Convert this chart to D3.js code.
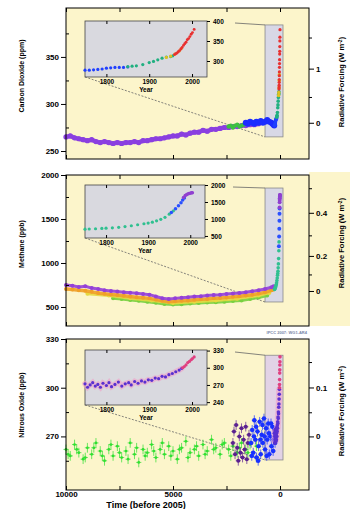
<!DOCTYPE html>
<html>
<head>
<meta charset="utf-8">
<script src="https://cdn.jsdelivr.net/npm/d3@7"></script>
<style>
  body { margin: 0; background: #fff; }
  text { font-family: "Liberation Sans", Arial, Helvetica, sans-serif; font-weight: bold; }
</style>
</head>
<body>
<svg id="chart" width="350" height="509"></svg>
<script>
// ---- data (years before 2005 for the long records, AD years for the modern ones) ----
const mainYearTicks = [10000, 7500, 5000, 2500, 0];
const mainYearLabels = [10000, 5000, 0];
const insetYearTicks = [1800, 1900, 2000];

const co2Purple = [[10000,265],[9800,266],[9600,264],[9400,263],[9200,262],[9000,261],[8800,262],[8600,260],[8400,259],[8200,260],[8000,259],[7800,258],[7600,259],[7400,258],[7200,259],[7000,259],[6800,260],[6600,259],[6400,261],[6200,261],[6000,262],[5800,263],[5600,263],[5400,264],[5200,265],[5000,266],[4800,266],[4600,268],[4400,267],[4200,269],[4000,270],[3800,270],[3600,272],[3400,271],[3200,273],[3000,273],[2800,274],[2600,275],[2400,275],[2200,276],[2000,276],[1800,277],[1600,277],[1400,278],[1200,278],[1000,279]];
const co2Green = [[2400,276],[2300,277],[2200,275],[2100,277],[2000,278],[1900,276],[1800,277],[1700,278]];
const co2Blue = [[1600,280],[1500,279],[1400,281],[1300,280],[1200,279],[1100,281],[1000,280],[900,282],[800,280],[700,281],[600,283],[500,281],[400,280],[350,279],[300,278],[270,277]];
const co2LawDome = [[1750,277],[1760,277],[1770,278],[1780,279],[1790,280],[1800,282],[1810,283],[1820,284],[1830,284],[1840,284],[1850,285]];
const co2Siple = [[1850,286],[1860,287],[1870,288],[1885,291],[1900,296],[1910,299],[1920,303],[1930,307],[1940,310],[1950,311],[1955,313]];
const co2Firn = [[1940,309],[1950,312],[1960,317],[1970,325],[1975,331]];
const co2MaunaLoa = [[1959,316],[1962,318],[1965,320],[1968,323],[1971,326],[1974,330],[1977,334],[1980,339],[1983,343],[1986,347],[1989,353],[1992,356],[1995,361],[1998,367],[2001,371],[2005,379]];

const ch4Purple = [[10000,750],[9700,742],[9400,728],[9100,735],[8800,715],[8500,705],[8200,690],[7900,682],[7600,675],[7300,668],[7000,662],[6700,655],[6400,648],[6100,640],[5800,620],[5500,600],[5200,590],[4900,598],[4600,605],[4300,610],[4000,618],[3700,622],[3400,630],[3100,636],[2800,640],[2500,648],[2200,652],[1900,660],[1600,668],[1300,678],[1000,690],[700,705],[400,725],[300,735]];
const ch4Orange = [[10000,705],[9700,698],[9400,690],[9100,685],[8800,672],[8500,660],[8200,650],[7900,642],[7600,635],[7300,628],[7000,620],[6700,612],[6400,605],[6100,598],[5800,585],[5500,570],[5200,560],[4900,565],[4600,570],[4300,575],[4000,582],[3700,588],[3400,592],[3100,598],[2800,602],[2500,608],[2200,615],[1900,622],[1600,630],[1300,640],[1000,652],[700,668],[400,690],[300,700]];
const ch4Yellow = [[9000,650],[8000,630],[7000,600],[6000,575],[5000,545],[4000,560],[3000,575],[2000,595],[1000,630],[500,660]];
const ch4Green = [[7800,600],[7400,590],[7000,580],[6600,570],[6200,560],[5800,548],[5400,535],[5000,528],[4600,530],[4200,540],[3800,545],[3400,550],[3000,555],[2600,560],[2200,568],[1800,575],[1400,590],[1000,608],[600,630]];
const ch4LawDome = [[1750,700],[1760,705],[1775,712],[1790,722],[1800,730],[1815,740],[1830,755],[1845,775],[1860,800],[1875,830],[1890,860],[1900,880],[1910,905],[1920,945],[1930,990],[1940,1050],[1950,1140],[1960,1240]];
const ch4Firn = [[1955,1190],[1965,1300],[1972,1390],[1978,1480],[1982,1560],[1986,1620]];
const ch4Atmos = [[1984,1630],[1988,1690],[1991,1715],[1994,1735],[1997,1750],[2000,1760],[2003,1772],[2005,1774]];

const n2oGreen = [[10000,262],[9800,258],[9600,265],[9400,260],[9200,256],[9000,263],[8800,259],[8600,266],[8400,261],[8200,255],[8000,262],[7800,258],[7600,264],[7400,257],[7200,261],[7000,266],[6800,259],[6600,254],[6400,262],[6200,260],[6000,265],[5800,257],[5600,262],[5400,259],[5200,264],[5000,261],[4800,256],[4600,263],[4400,267],[4200,260],[4000,262],[3800,258],[3600,265],[3400,261],[3200,268],[3000,263],[2800,259],[2600,266],[2400,262],[2200,264],[2000,260],[1800,266],[1600,262],[1400,265]];
const n2oGreenB = [[9900,259],[9500,262],[9100,257],[8700,263],[8300,258],[7900,265],[7500,260],[7100,256],[6700,263],[6300,258],[5900,261],[5500,266],[5100,258],[4700,262],[4300,257],[3900,264],[3500,259],[3100,262],[2700,265],[2300,258],[1900,263],[1500,260],[1100,264]];
const n2oPurple = [[2200,266],[2150,273],[2100,259],[2050,277],[2000,263],[1950,255],[1900,270],[1850,260],[1800,275],[1750,257],[1700,268],[1650,262],[1600,276],[1550,256],[1500,266],[1450,271]];
const n2oBlue = [[1350,266],[1300,274],[1250,260],[1200,280],[1150,268],[1100,257],[1050,273],[1000,264],[950,279],[900,259],[850,271],[800,266],[750,281],[700,262],[650,275],[600,268],[550,278],[500,259],[450,270],[400,264],[350,276],[300,268],[250,272]];
const n2oBlueB = [[1320,258],[1220,270],[1120,276],[1020,255],[920,268],[820,277],[720,270],[620,258],[520,272],[420,278],[320,261],[230,266]];
const n2oIce = [[1750,272],[1756,266],[1762,270],[1768,274],[1774,268],[1780,271],[1786,266],[1792,273],[1800,269],[1806,274],[1812,267],[1820,271],[1828,275],[1836,268],[1844,272],[1852,274],[1858,270],[1866,276],[1874,273],[1882,277],[1890,275],[1898,279],[1906,278],[1914,282],[1922,281],[1930,285],[1938,284],[1946,288],[1954,290],[1962,293],[1970,296],[1976,299]];
const n2oAtmos = [[1978,300],[1982,302],[1986,305],[1990,309],[1994,311],[1998,314],[2001,316],[2005,319]];

// ---- layout ----
const svg = d3.select('#chart');
const X0 = 66, X1 = 309;
const xMain = d3.scaleLinear().domain([10000, -1355]).range([X0, X1]);
const bg = '#fcf5cb';
const fmt = d3.format('d');

const panels = [
  {
    top: 8, bottom: 159, domain: [241.5, 402],
    ticks: [250, 300, 350], minor: [275, 325, 375],
    title: 'Carbon Dioxide (ppm)', titleY: 76, rfTitleY: 82,
    rfTicks: [0, 1], rfMinor: [0.5, 1.5], rfInv: r => 280 * Math.exp(r / 5.35),
    box: {bp: [700, -140], val: [265, 384]},
    inset: {x0: 85, x1: 207, y0: 21, y1: 77, domain: [260, 400], ticks: [300, 350, 400]},
    past: [
      {data: co2Purple, color: '#8a3fe0', r: 2.6, lw: 4.5},
      {data: co2Green, color: '#3cc040', r: 2.2},
      {data: co2Blue, color: '#1c2cff', r: 3}
    ],
    modern: [
      {data: co2LawDome, color: '#2040ff', r: 2},
      {data: co2Siple, color: '#20b080', r: 2},
      {data: co2Firn, color: '#e0c020', r: 2},
      {data: co2MaunaLoa, color: '#e83030', r: 1.8}
    ]
  },
  {
    top: 175, bottom: 326, domain: [284, 2000],
    ticks: [500, 1000, 1500, 2000], minor: [750, 1250, 1750],
    title: 'Methane (ppb)', titleY: 244, rfTitleY: 243,
    rfTicks: [0, 0.2, 0.4], rfMinor: [0.1, 0.3, 0.5], rfInv: r => Math.pow(r / 0.0296 + Math.sqrt(682), 2),
    box: {bp: [700, -140], val: [557, 1852]},
    inset: {x0: 85, x1: 205, y0: 185, y1: 238, domain: [440, 2000], ticks: [500, 1000, 1500, 2000]},
    past: [
      {data: ch4Green, color: '#78d040', r: 2, lw: 3},
      {data: ch4Yellow, color: '#e6d840', r: 2, lw: 3},
      {data: ch4Orange, color: '#f0a028', r: 2, lw: 3.5},
      {data: ch4Purple, color: '#9440d8', r: 2, lw: 3}
    ],
    modern: [
      {data: ch4LawDome, color: '#30c090', r: 2},
      {data: ch4Firn, color: '#2a50ff', r: 2.2},
      {data: ch4Atmos, color: '#9040d0', r: 2.2}
    ]
  },
  {
    top: 339, bottom: 490, domain: [237, 330],
    ticks: [270, 300, 330], minor: [255, 285, 315],
    title: 'Nitrous Oxide (ppb)', titleY: 405, rfTitleY: 411,
    rfTicks: [0, 0.1], rfMinor: [0.05, 0.15], rfInv: r => Math.pow(r / 0.112 + Math.sqrt(270), 2),
    box: {bp: [700, -140], val: [255.5, 320]},
    inset: {x0: 85, x1: 207, y0: 350, y1: 405, domain: [235, 331], ticks: [240, 270, 300, 330]},
    past: [
      {data: n2oGreen, color: '#30e030', r: 1.4, err: true},
      {data: n2oGreenB, color: '#30e030', r: 1.4, err: true},
      {data: n2oPurple, color: '#5a2090', r: 2, err: true},
      {data: n2oBlue, color: '#1830ff', r: 2.2, err: true},
      {data: n2oBlueB, color: '#1830ff', r: 2.2, err: true}
    ],
    modern: [
      {data: n2oIce, color: '#5a30d0', r: 2, halo: '#f0a0c8'},
      {data: n2oAtmos, color: '#e04080', r: 2}
    ]
  }
];

function plotSeries(g, s, xf, y, scale) {
  if (s.halo) {
    g.append('path').datum(s.data)
      .attr('d', d3.line().x(xf).y(d => y(d[1])))
      .attr('fill', 'none').attr('stroke', s.halo).attr('stroke-width', 7 * scale)
      .attr('stroke-linecap', 'round').attr('opacity', 0.6);
  }
  if (s.lw) {
    g.append('path').datum(s.data)
      .attr('d', d3.line().x(xf).y(d => y(d[1])))
      .attr('fill', 'none').attr('stroke', s.color).attr('stroke-width', s.lw * scale)
      .attr('stroke-linejoin', 'round').attr('opacity', 0.9);
  }
  if (s.err) {
    const e = g.append('g').attr('stroke', s.color).attr('stroke-width', 0.7);
    e.selectAll(null).data(s.data).join('line')
      .attr('x1', d => xMain(d[0] + 120)).attr('x2', d => xMain(d[0] - 120))
      .attr('y1', d => y(d[1])).attr('y2', d => y(d[1]));
    e.selectAll(null).data(s.data).join('line')
      .attr('x1', d => xMain(d[0])).attr('x2', d => xMain(d[0]))
      .attr('y1', d => y(d[1] - 3)).attr('y2', d => y(d[1] + 3));
  }
  g.selectAll(null).data(s.data).join('circle')
    .attr('cx', xf).attr('cy', d => y(d[1]))
    .attr('r', s.r * scale).attr('fill', s.color);
}

function styleAxis(a, size) {
  a.attr('font-size', size).attr('font-family', null);
  a.select('.domain').remove();
  a.selectAll('line').attr('stroke', '#000');
}

// CH4 panel background runs on past the right axis
svg.append('rect').attr('x', X1).attr('y', 172).attr('width', 350 - X1).attr('height', 326 - 172).attr('fill', bg);

panels.forEach((p, pi) => {
  const g = svg.append('g');
  const y = d3.scaleLinear().domain(p.domain).range([p.bottom, p.top]);

  g.append('rect').attr('x', X0).attr('y', p.top).attr('width', X1 - X0).attr('height', p.bottom - p.top).attr('fill', bg);

  // highlighted period
  const bx0 = xMain(p.box.bp[0]), bx1 = xMain(p.box.bp[1]);
  const by0 = y(p.box.val[1]), by1 = y(p.box.val[0]);
  g.append('rect').attr('x', bx0).attr('y', by0).attr('width', bx1 - bx0).attr('height', by1 - by0)
    .attr('fill', pi === 2 ? '#e2d2e6' : '#d8d8e6').attr('stroke', '#8a8a8a').attr('stroke-width', 0.8);

  // inset
  const ins = p.inset;
  const xi = d3.scaleLinear().domain([1750, 2035]).range([ins.x0, ins.x1]);
  const yi = d3.scaleLinear().domain(ins.domain).range([ins.y1, ins.y0]);
  g.append('rect').attr('x', ins.x0).attr('y', ins.y0).attr('width', ins.x1 - ins.x0).attr('height', ins.y1 - ins.y0)
    .attr('fill', '#d9d9df').attr('stroke', '#444').attr('stroke-width', 0.8);

  // connectors
  g.append('line').attr('x1', ins.x0).attr('y1', ins.y1).attr('x2', bx0).attr('y2', by1)
    .attr('stroke', '#666').attr('stroke-width', 0.8).attr('stroke-dasharray', '2,1.5');
  g.append('line').attr('x1', ins.x1 + 28).attr('y1', ins.y0 + 2).attr('x2', bx0).attr('y2', by0)
    .attr('stroke', '#666').attr('stroke-width', 0.8);

  p.modern.forEach(s => plotSeries(g, s, d => xi(d[0]), yi, 0.8));

  g.append('g').attr('transform', `translate(0,${ins.y1})`)
    .call(d3.axisBottom(xi).tickValues(insetYearTicks).tickSize(-3).tickPadding(2).tickFormat(fmt))
    .call(a => styleAxis(a, 6.5));
  g.append('g').attr('transform', `translate(0,${ins.y0})`)
    .call(d3.axisTop(xi).tickValues(insetYearTicks).tickSize(-3).tickFormat(''))
    .call(a => styleAxis(a, 6.5));
  g.append('g').attr('transform', `translate(${ins.x1},0)`)
    .call(d3.axisRight(yi).tickValues(ins.ticks).tickSize(3).tickPadding(3).tickFormat(fmt))
    .call(a => styleAxis(a, 6.5));
  g.append('text').attr('x', (ins.x0 + ins.x1) / 2).attr('y', ins.y1 + 15)
    .attr('text-anchor', 'middle').attr('font-size', 6.5).text('Year');

  // long records and the modern rise at full scale
  p.past.forEach(s => plotSeries(g, s, d => xMain(d[0]), y, 1));
  p.modern.forEach(s => plotSeries(g, s, d => xMain(2005 - d[0]), y, 0.9));

  // frame and axes
  g.append('rect').attr('x', X0).attr('y', p.top).attr('width', X1 - X0).attr('height', p.bottom - p.top)
    .attr('fill', 'none').attr('stroke', '#000').attr('stroke-width', 1);

  g.append('g').attr('transform', `translate(${X0},0)`)
    .call(d3.axisLeft(y).tickValues(p.ticks).tickSize(5).tickPadding(2).tickFormat(fmt))
    .call(a => styleAxis(a, 8));
  g.append('g').attr('transform', `translate(${X0},0)`)
    .call(d3.axisRight(y).tickValues(p.minor).tickSize(3).tickFormat(''))
    .call(a => styleAxis(a, 8));

  g.append('g').attr('transform', `translate(${X1},0)`)
    .call(d3.axisRight(y).tickValues(p.rfTicks.map(p.rfInv)).tickSize(5).tickPadding(2).tickFormat((d, i) => p.rfTicks[i]))
    .call(a => styleAxis(a, 8));
  g.append('g').attr('transform', `translate(${X1},0)`)
    .call(d3.axisRight(y).tickValues(p.rfMinor.map(p.rfInv)).tickSize(3).tickFormat(''))
    .call(a => styleAxis(a, 8));

  g.append('g').attr('transform', `translate(0,${p.top})`)
    .call(d3.axisTop(xMain).tickValues(mainYearTicks).tickSize(-4).tickFormat(''))
    .call(a => styleAxis(a, 8));
  g.append('g').attr('transform', `translate(0,${p.bottom})`)
    .call(d3.axisBottom(xMain).tickValues(mainYearTicks).tickSize(-4).tickPadding(1)
      .tickFormat(d => (pi === 2 && mainYearLabels.includes(d)) ? d : ''))
    .call(a => styleAxis(a, 8));

  g.append('text').attr('transform', `translate(24,${p.titleY}) rotate(-90)`)
    .attr('text-anchor', 'middle').attr('font-size', 7).text(p.title);
  const rt = g.append('text').attr('transform', `translate(344,${p.rfTitleY}) rotate(-90)`)
    .attr('text-anchor', 'middle').attr('font-size', 7.5);
  rt.append('tspan').text('Radiative Forcing (W m');
  rt.append('tspan').attr('font-size', 5).attr('dy', -2.5).text('-2');
  rt.append('tspan').attr('dy', 2.5).text(')');
});

svg.append('text').attr('x', 307).attr('y', 334).attr('text-anchor', 'end')
  .attr('font-size', 4).attr('fill', '#7a86a8').text('IPCC 2007: WG1-AR4');

svg.append('text').attr('x', 146).attr('y', 508).attr('text-anchor', 'middle')
  .attr('font-size', 9).text('Time (before 2005)');
</script>
</body>
</html>
